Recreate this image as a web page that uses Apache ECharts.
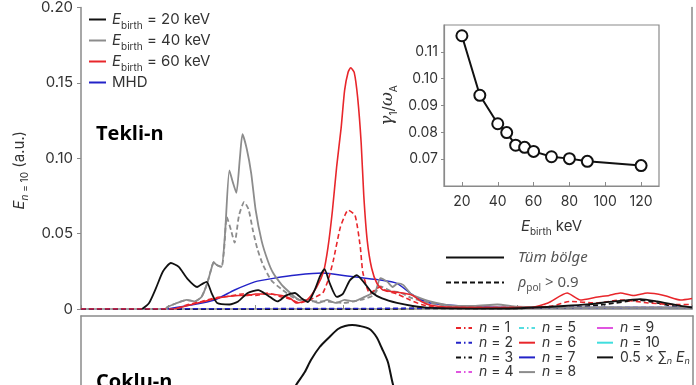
<!DOCTYPE html>
<html><head><meta charset="utf-8">
<script src="https://cdn.jsdelivr.net/npm/echarts@6/dist/echarts.min.js"></script>
<style>html,body{margin:0;padding:0;background:#fff}#c{width:696px;height:385px}</style>
</head><body><div id="c"></div>
<script>
// ---------- data ----------
const mainYTicks = [0, 0.05, 0.10, 0.15, 0.20];
const insetXTicks = [20, 40, 60, 80, 100, 120];
const insetYTicks = [0.07, 0.08, 0.09, 0.10, 0.11];

// radial coordinate (arbitrary units 0..7, unlabeled), mode energy
const e20All = [[0.70,0],[0.78,0.004],[0.86,0.014],[0.94,0.025],[1.03,0.0305],[1.12,0.028],[1.22,0.020],[1.33,0.0146],[1.40,0.017],[1.44,0.018],[1.50,0.010],[1.56,0.004],[1.70,0.003],[1.80,0.005],[1.91,0.0106],[2.03,0.0125],[2.14,0.009],[2.25,0.005],[2.35,0.009],[2.45,0.0106],[2.53,0.007],[2.60,0.0046],[2.68,0.013],[2.74,0.022],[2.79,0.0265],[2.85,0.017],[2.93,0.008],[3.00,0.010],[3.08,0.019],[3.16,0.0225],[3.25,0.017],[3.34,0.0106],[3.45,0.007],[3.62,0.004],[3.80,0.002],[4.00,0.0007],[4.50,0.0003],[5.00,0.0005],[5.53,0.002],[5.80,0.003],[6.10,0.005],[6.41,0.0066],[6.60,0.005],[6.87,0.002],[7.00,0.001]];
const e20Edge = [[0,0],[3.5,0],[4.0,0.0005],[5.0,0.0005],[5.6,0.001],[6.0,0.003],[6.4,0.006],[6.6,0.004],[6.9,0.001],[7,0.001]];
const e40All = [[0.97,0],[0.99,0.0013],[1.10,0.004],[1.21,0.006],[1.30,0.005],[1.38,0.008],[1.44,0.016],[1.49,0.026],[1.52,0.031],[1.56,0.029],[1.61,0.028],[1.65,0.05],[1.70,0.092],[1.74,0.084],[1.78,0.077],[1.82,0.100],[1.85,0.116],[1.90,0.106],[1.95,0.090],[2.00,0.066],[2.07,0.045],[2.14,0.032],[2.20,0.024],[2.30,0.016],[2.36,0.0126],[2.45,0.008],[2.51,0.006],[2.62,0.006],[2.72,0.004],[2.82,0.006],[2.92,0.004],[3.02,0.006],[3.12,0.005],[3.25,0.008],[3.34,0.0106],[3.38,0.0126],[3.43,0.0205],[3.51,0.018],[3.57,0.0146],[3.63,0.017],[3.69,0.016],[3.78,0.010],[3.85,0.008],[4.00,0.005],[4.20,0.0026],[4.50,0.002],[4.77,0.003],[5.00,0.0015],[5.50,0.001],[6.00,0.0012],[6.50,0.001],[7.00,0.001]];
const e40Edge = [[0.97,0],[0.99,0.0013],[1.10,0.004],[1.21,0.006],[1.30,0.005],[1.38,0.008],[1.44,0.016],[1.49,0.026],[1.52,0.031],[1.56,0.029],[1.61,0.028],[1.64,0.040],[1.67,0.061],[1.72,0.052],[1.76,0.044],[1.81,0.062],[1.87,0.071],[1.92,0.066],[1.97,0.052],[2.02,0.040],[2.08,0.030],[2.18,0.019],[2.31,0.0126],[2.45,0.007],[2.60,0.005],[2.80,0.005],[3.00,0.004],[3.20,0.006],[3.35,0.009],[3.43,0.015],[3.55,0.012],[3.65,0.011],[3.80,0.007],[4.00,0.004],[4.20,0.002],[4.60,0.001],[5.50,0.0008],[7.00,0.0008]];
const e60All = [[1.07,0],[1.20,0.002],[1.38,0.0046],[1.55,0.007],[1.64,0.008],[1.80,0.009],[1.91,0.009],[2.00,0.010],[2.14,0.010],[2.30,0.009],[2.40,0.007],[2.47,0.004],[2.59,0.006],[2.70,0.0146],[2.78,0.025],[2.83,0.041],[2.88,0.065],[2.93,0.095],[2.98,0.120],[3.02,0.145],[3.06,0.157],[3.09,0.160],[3.13,0.157],[3.17,0.140],[3.21,0.110],[3.24,0.075],[3.28,0.045],[3.33,0.027],[3.39,0.017],[3.46,0.0126],[3.57,0.0115],[3.69,0.0106],[3.80,0.009],[3.90,0.005],[4.00,0.0026],[4.20,0.0013],[4.60,0.001],[5.15,0.001],[5.35,0.004],[5.57,0.0106],[5.72,0.006],[5.92,0.008],[6.05,0.009],[6.18,0.0106],[6.33,0.009],[6.49,0.0106],[6.68,0.009],[6.87,0.006],[7.00,0.007]];
const e60Edge = [[0,0],[1.07,0],[1.20,0.0025],[1.38,0.005],[1.55,0.0075],[1.70,0.0085],[1.85,0.010],[2.00,0.009],[2.14,0.0105],[2.30,0.008],[2.40,0.0065],[2.50,0.004],[2.62,0.006],[2.72,0.009],[2.77,0.0106],[2.83,0.019],[2.89,0.032],[2.97,0.054],[3.03,0.063],[3.06,0.0656],[3.14,0.062],[3.20,0.041],[3.23,0.024],[3.31,0.0106],[3.43,0.0146],[3.50,0.012],[3.62,0.010],[3.77,0.006],[3.90,0.003],[4.10,0.001],[5.15,0.001],[5.40,0.002],[5.60,0.005],[5.90,0.004],[6.20,0.006],[6.50,0.004],[6.80,0.003],[7.00,0.003]];
const mhdAll = [[0.99,0],[1.26,0.0026],[1.53,0.006],[1.76,0.0126],[1.99,0.018],[2.22,0.0205],[2.47,0.0225],[2.77,0.0238],[3.05,0.0219],[3.43,0.0192],[3.62,0.017],[3.77,0.0106],[3.90,0.006],[4.00,0.004],[4.20,0.0026],[4.50,0.0015],[5.00,0.001],[6.00,0.001],[7.00,0.001]];
const mhdEdge = [[0,0],[4,0.0005],[5,0.0008],[6,0.001],[7,0.001]];

// inset: growth rate vs birth energy
const insetEbirth = [20, 30, 40, 45, 50, 55, 60, 70, 80, 90, 120];
const insetGamma = [0.116, 0.0938, 0.0832, 0.0799, 0.0752, 0.0744, 0.0729, 0.0709, 0.0702, 0.0692, 0.0676];

// bottom panel (multi-n), only top visible
const sumHalf = [[2.20,0.45],[2.35,0.57],[2.46,0.655],[2.56,0.72],[2.63,0.78],[2.73,0.845],[2.83,0.89],[2.94,0.935],[3.02,0.95],[3.10,0.955],[3.19,0.95],[3.30,0.935],[3.38,0.895],[3.44,0.84],[3.51,0.77],[3.57,0.655],[3.68,0.52],[3.80,0.40]];
const nLabels = ['n = 1','n = 2','n = 3','n = 4','n = 5','n = 6','n = 7','n = 8','n = 9','n = 10'];
const nColors = ['#e8262b','#2323c8','#111111','#e055e0','#55dde0','#e8262b','#2323c8','#8c8c8c','#e055e0','#40dede'];

// ---------- styling ----------
const F = 'Inter, "Noto Sans", sans-serif';
const TXT = '#333';
const AX = '#8a8a8a';
const RED = '#e8262b', BLUE = '#2323c8', GRAY = '#8c8c8c', BLACK = '#111';

const richMain = {
  i: {fontFamily: F, fontStyle: 'italic', fontSize: 15, lineHeight: 22, color: TXT},
  t: {fontFamily: F, fontSize: 15, lineHeight: 22, color: TXT},
  s: {fontFamily: F, fontSize: 10, lineHeight: 10, verticalAlign: 'bottom', color: TXT},
  si: {fontFamily: F, fontSize: 10, fontStyle:'italic', lineHeight: 10, verticalAlign: 'bottom', color: TXT},
  it: {fontFamily: '"Noto Sans"', fontStyle: 'italic', fontSize: 15, lineHeight: 22, color: '#555'},
  ip: {fontFamily: '"Noto Sans"', fontStyle: 'italic', fontSize: 15, lineHeight: 22, color: '#555'},
  sp: {fontFamily: '"Noto Sans"', fontSize: 10, lineHeight: 10, verticalAlign: 'bottom', color: '#555'},
  tp: {fontFamily: '"Noto Sans"', fontSize: 15, lineHeight: 22, color: '#555'}
};
const richSmall = {
  i: {fontFamily: F, fontStyle: 'italic', fontSize: 14, lineHeight: 16, color: TXT},
  t: {fontFamily: F, fontSize: 14, lineHeight: 16, color: TXT},
  s: {fontFamily: F, fontSize: 9, fontStyle:'italic', lineHeight: 9, verticalAlign: 'bottom', color: TXT}
};

const legendMap = {
  'E20': '{i|E}{s|birth}{t| = 20 keV}',
  'E40': '{i|E}{s|birth}{t| = 40 keV}',
  'E60': '{i|E}{s|birth}{t| = 60 keV}',
  'MHD': '{t|MHD}',
  'Tüm bölge': '{it|Tüm bölge}',
  'rho': '{ip|ρ}{sp|pol}{tp| > 0.9}',
  'sum': '{t|0.5 × ∑}{s|n}{t| }{i|E}{s|n}'
};
function fmtSmall(name) {
  if (legendMap[name]) return legendMap[name];
  return '{i|n}{t|' + name.slice(1) + '}';
}
const hideSym = {color: 'transparent', borderWidth: 0, opacity: 0};

function line(name, data, color, dashed, width, z) {
  return {
    type: 'line', name: name, data: data, xAxisIndex: 0, yAxisIndex: 0,
    symbol: 'none', smooth: 0.2, z: z,
    lineStyle: {color: color, width: width, type: dashed ? [5, 3] : 'solid'},
    itemStyle: {color: color}
  };
}

const series = [
  line('E20edge', e20Edge, BLACK, true, 1.8, 1),
  line('MHD', mhdAll, BLUE, false, 1.5, 2),
  line('MHDedge', mhdEdge, BLUE, true, 1.5, 2),
  line('E40edge', e40Edge, GRAY, true, 1.8, 3),
  line('E40', e40All, GRAY, false, 1.8, 3),
  line('E60', e60All, RED, false, 1.6, 4),
  line('E60edge', e60Edge, RED, true, 1.6, 4),
  line('E20', e20All, BLACK, false, 1.8, 5),
  {type:'line', name:'Tüm bölge', data:[], xAxisIndex:0, yAxisIndex:0, symbol:'none', lineStyle:{color:BLACK, width:2}, itemStyle:{color:BLACK}},
  {type:'line', name:'rho', data:[], xAxisIndex:0, yAxisIndex:0, symbol:'none', lineStyle:{color:BLACK, width:2, type:[5,3]}, itemStyle:{color:BLACK}},
  {
    type: 'line', name: 'inset', xAxisIndex: 1, yAxisIndex: 2, z: 20,
    data: insetEbirth.map((e, i) => [e, insetGamma[i]]),
    symbol: 'circle', symbolSize: 11,
    lineStyle: {color: BLACK, width: 2},
    itemStyle: {color: '#fff', borderColor: BLACK, borderWidth: 2}
  },
  {
    type: 'line', name: 'sum', xAxisIndex: 2, yAxisIndex: 3, data: sumHalf, clip: true,
    symbol: 'none', smooth: 0.25, lineStyle: {color: BLACK, width: 2}, itemStyle: {color: BLACK}
  }
];
nLabels.forEach((nm, k) => {
  series.push({
    type: 'line', name: nm, xAxisIndex: 2, yAxisIndex: 3, data: [], symbol: 'none',
    lineStyle: {color: nColors[k], width: 2, type: k < 5 ? [5, 3, 1.5, 3] : 'solid'},
    itemStyle: {color: nColors[k]}
  });
});

function smallLegend(names, left) {
  return {
    data: names, left: left, top: 321, orient: 'vertical',
    itemWidth: 16, itemHeight: 8, itemGap: 0.7, padding: 0,
    formatter: fmtSmall, selectedMode: false, itemStyle: hideSym,
    textStyle: {fontFamily: F, fontSize: 14, color: TXT, padding: [0, 0, 0, 2], rich: richSmall}
  };
}

const option = {
  animation: false,
  backgroundColor: '#fff',
  title: [
    {text: 'Tekli-n', left: 96, top: 124, padding: 0,
     textStyle: {fontFamily: '"Open Sans"', fontWeight: 'bold', fontSize: 20, color: '#000'}},
    {text: 'Çoklu-n', left: 96, top: 372, padding: 0,
     textStyle: {fontFamily: '"Open Sans"', fontWeight: 'bold', fontSize: 20, color: '#000'}}
  ],
  legend: [
    {
      data: ['E20', 'E40', 'E60', 'MHD'], left: 88, top: 12, orient: 'vertical',
      itemWidth: 17, itemHeight: 10, itemGap: 2.5, padding: 0, selectedMode: false, itemStyle: hideSym,
      formatter: n => legendMap[n],
      textStyle: {fontFamily: F, fontSize: 15, color: TXT, padding: [0, 0, 0, 1], rich: richMain}
    },
    {
      data: ['Tüm bölge', 'rho'], left: 445, top: 250, orient: 'vertical',
      itemWidth: 58, itemHeight: 10, itemGap: 10, padding: 0, selectedMode: false, itemStyle: hideSym,
      formatter: n => legendMap[n],
      textStyle: {fontFamily: F, fontSize: 15, color: '#555', padding: [0, 0, 0, 9], rich: richMain}
    },
    smallLegend(['n = 1', 'n = 2', 'n = 3', 'n = 4'], 455),
    smallLegend(['n = 5', 'n = 6', 'n = 7', 'n = 8'], 518),
    smallLegend(['n = 9', 'n = 10', 'sum'], 596)
  ],
  grid: [
    {left: 81, top: 7, width: 611, height: 302, containLabel: false},
    {left: 444, top: 25, width: 215, height: 161, show: true, backgroundColor: '#fff', borderColor: AX, borderWidth: 1.2, z: 15},
    {left: 81, top: 316, width: 612, height: 69}
  ],
  xAxis: [
    {gridIndex: 0, type: 'value', min: 0, max: 7, interval: 1,
     axisLine: {lineStyle: {color: AX, width: 1.5}},
     axisTick: {inside: true, length: 4, lineStyle: {color: AX}},
     axisLabel: {show: false}, splitLine: {show: false}},
    {gridIndex: 1, type: 'value', min: 10, max: 130, z: 16,
     axisLine: {onZero: false, lineStyle: {color: AX, width: 1.2}},
     axisTick: {inside: true, length: 4, customValues: insetXTicks, lineStyle: {color: AX}},
     axisLabel: {customValues: insetXTicks, margin: 9, fontFamily: F, fontSize: 14, color: TXT},
     splitLine: {show: false},
     name: '{i|E}{s|birth}{t| keV}', nameLocation: 'middle', nameGap: 29,
     nameTextStyle: {rich: richMain}},
    {gridIndex: 2, type: 'value', min: 0, max: 7, position: 'top',
     axisLine: {onZero: false, lineStyle: {color: AX, width: 1.5}},
     axisTick: {show: false}, axisLabel: {show: false}, splitLine: {show: false}}
  ],
  yAxis: [
    {gridIndex: 0, type: 'value', min: 0, max: 0.2, interval: 0.05,
     axisLine: {show: true, lineStyle: {color: AX, width: 1.5}},
     axisTick: {show: true, length: 4, lineStyle: {color: AX}},
     axisLabel: {margin: 8, fontFamily: F, fontSize: 15, color: TXT,
                 formatter: v => v === 0 ? '0' : v.toFixed(2)},
     splitLine: {show: false},
     name: '{i|E}{si|n}{s| = 10}{t| (a.u.)}', nameLocation: 'middle', nameGap: 47,
     nameTextStyle: {rich: richMain, padding: [0, 24, 0, 0]}},
    {gridIndex: 0, type: 'value', min: 0, max: 0.2, position: 'right',
     axisLine: {show: true, lineStyle: {color: AX, width: 1.5}},
     axisTick: {show: false}, axisLabel: {show: false}, splitLine: {show: false}},
    {gridIndex: 1, type: 'value', min: 0.06, max: 0.12, z: 16,
     axisLine: {show: true, onZero: false, lineStyle: {color: AX, width: 1.2}},
     axisTick: {show: true, length: 3, customValues: insetYTicks, lineStyle: {color: AX}},
     axisLabel: {customValues: insetYTicks, margin: 6, fontFamily: F, fontSize: 14, color: TXT,
                 formatter: v => v.toFixed(2)},
     splitLine: {show: false},
     name: '{g|γ}{s|1}{t|/}{g|ω}{s|A}', nameLocation: 'middle', nameGap: 45,
     nameTextStyle: {rich: Object.assign({}, richMain, {
       g: {fontFamily: '"DejaVu Serif", serif', fontStyle: 'italic', fontSize: 17, lineHeight: 22, color: TXT}})}},
    {gridIndex: 2, type: 'value', min: 0.655, max: 1,
     axisLine: {show: true, onZero: false, lineStyle: {color: AX, width: 1.5}},
     axisTick: {show: false}, axisLabel: {show: false}, splitLine: {show: false}},
    {gridIndex: 2, type: 'value', min: 0.655, max: 1, position: 'right',
     axisLine: {show: true, onZero: false, lineStyle: {color: AX, width: 1.5}},
     axisTick: {show: false}, axisLabel: {show: false}, splitLine: {show: false}}
  ],
  series: series
};

const chart = echarts.init(document.getElementById('c'), null, {renderer: 'canvas'});
chart.setOption(option);
</script>
</body></html>
